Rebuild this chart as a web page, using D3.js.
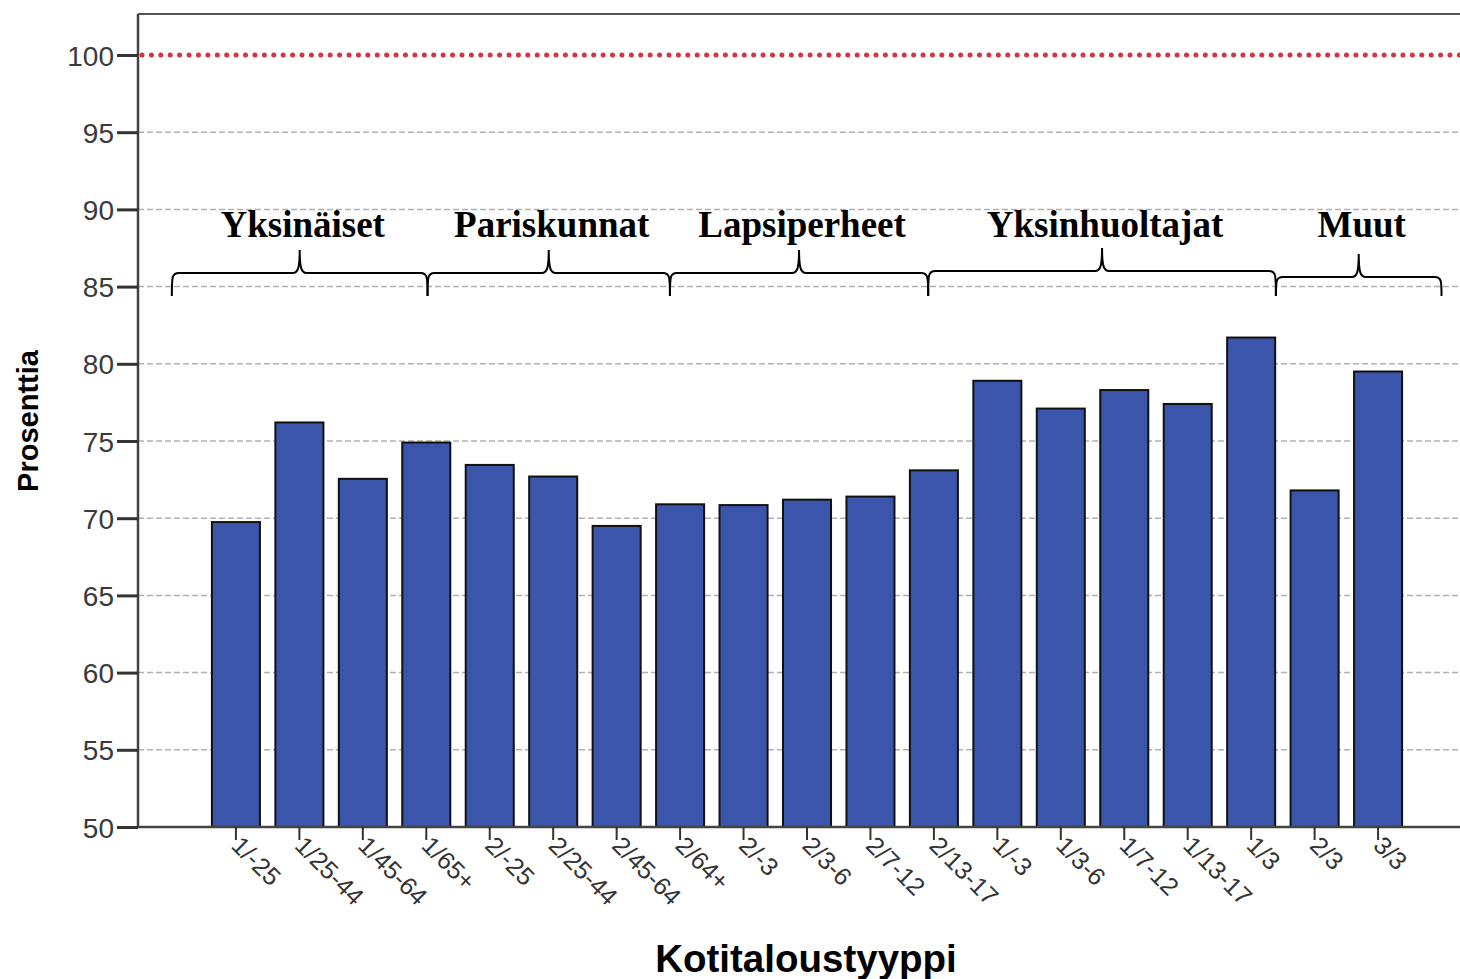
<!DOCTYPE html>
<html>
<head>
<meta charset="utf-8">
<script src="https://cdn.jsdelivr.net/npm/d3@7"></script>
<style>
  body { margin: 0; background: #fff; }
  svg { display: block; }
</style>
</head>
<body>
<svg id="chart" width="1460" height="979"></svg>
<script>
// household types and share (%)
const categories = ["1/-25", "1/25-44", "1/45-64", "1/65+", "2/-25", "2/25-44", "2/45-64", "2/64+",
  "2/-3", "2/3-6", "2/7-12", "2/13-17", "1/-3", "1/3-6", "1/7-12", "1/13-17", "1/3", "2/3", "3/3"];
const values = [69.75, 76.2, 72.55, 74.9, 73.45, 72.7, 69.5, 70.9,
  70.85, 71.2, 71.4, 73.1, 78.9, 77.1, 78.3, 77.4, 81.7, 71.8, 79.5];
const yTicks = [50, 55, 60, 65, 70, 75, 80, 85, 90, 95, 100];
const referenceLine = 100;

// group braces: label, from/to in bar-index units
const groupNames = ["Yksinäiset", "Pariskunnat", "Lapsiperheet", "Yksinhuoltajat", "Muut"];
const groupStart = [-1.01, 3.02, 6.84, 10.91, 16.39];
const groupEnd = [3.02, 6.84, 10.91, 16.39, 19.0];

const svg = d3.select("#chart");
const plotLeft = 138, plotTop = 14, plotRight = 1460, plotBottom = 827;
const sans = "'Liberation Sans', Arial, sans-serif";

const x = d3.scaleBand()
  .domain(categories)
  .range([204.3, 1409.7])
  .paddingInner(0.243)
  .paddingOuter(0.12);

const y = d3.scaleLinear()
  .domain([50, 100])
  .range([plotBottom, 55]);

// position of a fractional bar index (centre of bars)
const step = x.step();
const c0 = x(categories[0]) + x.bandwidth() / 2;
const idx = i => c0 + i * step;

// gridlines
svg.append("g")
  .selectAll("line")
  .data(yTicks.filter(t => t > 50 && t < 100))
  .join("line")
  .attr("x1", plotLeft).attr("x2", plotRight)
  .attr("y1", d => y(d)).attr("y2", d => y(d))
  .attr("stroke", "#b0b0b0")
  .attr("stroke-width", 1.5)
  .attr("stroke-dasharray", "6 3");

// bars
svg.append("g")
  .selectAll("rect")
  .data(values)
  .join("rect")
  .attr("x", (d, i) => x(categories[i]))
  .attr("y", d => y(d))
  .attr("width", x.bandwidth())
  .attr("height", d => plotBottom - y(d))
  .attr("fill", "#3b55aa")
  .attr("stroke", "#111")
  .attr("stroke-width", 2);

// red dotted 100% line
svg.append("line")
  .attr("x1", plotLeft + 4).attr("x2", plotRight)
  .attr("y1", y(referenceLine)).attr("y2", y(referenceLine))
  .attr("stroke", "#d9313f")
  .attr("stroke-width", 5)
  .attr("stroke-linecap", "round")
  .attr("stroke-dasharray", "0.01 9.4");

// frame
svg.append("line")
  .attr("x1", plotLeft).attr("x2", plotRight)
  .attr("y1", plotTop).attr("y2", plotTop)
  .attr("stroke", "#555").attr("stroke-width", 2);

// y axis
const yAxis = svg.append("g")
  .attr("transform", `translate(${plotLeft},0)`)
  .call(d3.axisLeft(y).tickValues(yTicks).tickSize(21).tickPadding(3));
yAxis.select(".domain")
  .attr("d", `M0,${plotTop}V${plotBottom}`)
  .attr("stroke", "#444").attr("stroke-width", 2.5);
yAxis.selectAll(".tick line").attr("stroke", "#333").attr("stroke-width", 3);
yAxis.selectAll(".tick text")
  .attr("fill", "#3a3a3a")
  .style("font-family", sans)
  .style("font-size", "28px")
  .attr("dy", "0.36em");

// x axis
const xAxis = svg.append("g")
  .attr("transform", `translate(0,${plotBottom})`)
  .call(d3.axisBottom(x).tickSize(13).tickSizeOuter(0));
xAxis.select(".domain")
  .attr("d", `M${plotLeft},0H${plotRight}`)
  .attr("stroke", "#444").attr("stroke-width", 2.5);
xAxis.selectAll(".tick line").attr("stroke", "#333").attr("stroke-width", 2);
xAxis.selectAll(".tick text")
  .attr("fill", "#333")
  .attr("text-anchor", "start")
  .attr("dy", null)
  .attr("y", 0)
  .attr("transform", "translate(-6,20) rotate(45)")
  .style("font-family", sans)
  .style("font-size", "25px");

// axis titles
svg.append("text")
  .attr("transform", "translate(38,421) rotate(-90)")
  .attr("text-anchor", "middle")
  .style("font-family", sans)
  .style("font-weight", "bold")
  .style("font-size", "29px")
  .text("Prosenttia");

svg.append("text")
  .attr("x", 806).attr("y", 972)
  .attr("text-anchor", "middle")
  .style("font-family", sans)
  .style("font-weight", "bold")
  .style("font-size", "38.5px")
  .text("Kotitaloustyyppi");

// braces with group names
const braceBase = [273, 273, 273, 271, 277];
function bracePath(x1, x2, yb) {
  const xm = (x1 + x2) / 2, yEnd = 296, yTip = yb - 23, r = 7;
  return `M${x1},${yEnd} C${x1},${yb + 4} ${x1},${yb} ${x1 + r},${yb}` +
    ` L${xm - r},${yb} C${xm - 2},${yb} ${xm},${yb - 4} ${xm},${yTip}` +
    ` C${xm},${yb - 4} ${xm + 2},${yb} ${xm + r},${yb}` +
    ` L${x2 - r},${yb} C${x2},${yb} ${x2},${yb + 4} ${x2},${yEnd}`;
}

const groups = svg.append("g")
  .selectAll("g")
  .data(groupNames)
  .join("g");

groups.append("path")
  .attr("d", (d, i) => bracePath(idx(groupStart[i]), idx(groupEnd[i]), braceBase[i]))
  .attr("fill", "none")
  .attr("stroke", "#000")
  .attr("stroke-width", 2);

groups.append("text")
  .attr("x", (d, i) => (idx(groupStart[i]) + idx(groupEnd[i])) / 2 + 3)
  .attr("y", 237)
  .attr("text-anchor", "middle")
  .style("font-family", "'Liberation Serif', 'Times New Roman', serif")
  .style("font-weight", "bold")
  .style("font-size", "37px")
  .text(d => d);
</script>
</body>
</html>
